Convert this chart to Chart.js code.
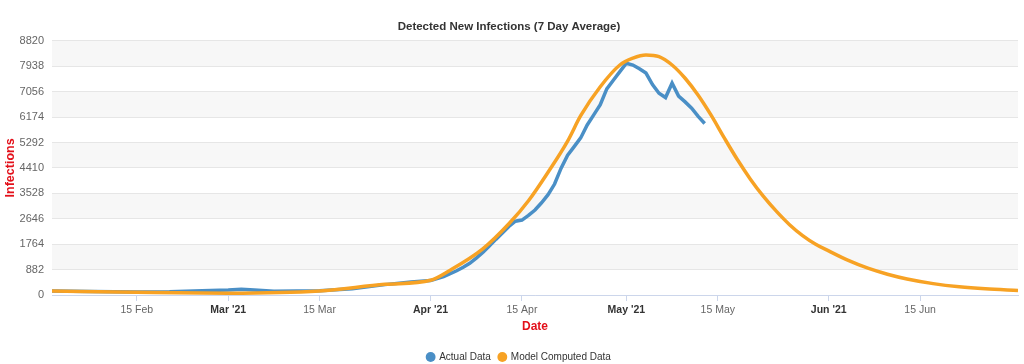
<!DOCTYPE html>
<html><head><meta charset="utf-8">
<script src="https://cdn.jsdelivr.net/npm/chart.js@4.4.0/dist/chart.umd.min.js"></script>
<style>html,body{margin:0;padding:0;background:#fff}#wrap{width:1024px;height:364px;position:relative}</style>
</head><body><div id="wrap"><canvas id="c"></canvas></div>
<script>
const actualDates = ['2021-02-02','2021-02-08','2021-02-15','2021-02-20','2021-02-25','2021-03-01','2021-03-03','2021-03-05','2021-03-08','2021-03-15','2021-03-20','2021-03-25','2021-03-29','2021-04-01',
'2021-04-03','2021-04-04','2021-04-05','2021-04-06','2021-04-07','2021-04-08','2021-04-09','2021-04-10','2021-04-11','2021-04-12','2021-04-13','2021-04-14','2021-04-15','2021-04-16','2021-04-17','2021-04-18','2021-04-19','2021-04-20','2021-04-21','2021-04-22','2021-04-23','2021-04-24','2021-04-25','2021-04-26','2021-04-27','2021-04-28','2021-04-29','2021-04-30',
'2021-05-01','2021-05-02','2021-05-03','2021-05-04','2021-05-05','2021-05-06','2021-05-07','2021-05-08','2021-05-09','2021-05-10','2021-05-11','2021-05-12','2021-05-13'];
const actualValues = [140,125,100,110,150,175,200,170,130,150,220,360,450,500,
640,740,840,960,1100,1280,1480,1700,1930,2150,2380,2560,2600,2760,2950,3200,3480,3850,4400,4850,5150,5450,5900,6250,6600,7150,7450,7750,
8040,7980,7850,7700,7300,7000,6850,7350,6900,6700,6480,6200,5950];

const modelDates = ['2021-02-02','2021-02-15','2021-03-01','2021-03-15','2021-03-25','2021-04-01','2021-04-04','2021-04-09','2021-04-13','2021-04-16','2021-04-19','2021-04-22','2021-04-24','2021-04-27','2021-04-30',
'2021-05-02','2021-05-04','2021-05-06','2021-05-08','2021-05-10','2021-05-12','2021-05-14','2021-05-16','2021-05-18','2021-05-20','2021-05-22','2021-05-24','2021-05-26','2021-05-28','2021-05-30',
'2021-06-01','2021-06-04','2021-06-07','2021-06-10','2021-06-13','2021-06-17','2021-06-21','2021-06-25','2021-06-30'];
const modelValues = [140,95,65,140,370,510,860,1600,2470,3270,4260,5340,6220,7225,7980,
8220,8330,8270,7980,7520,6930,6230,5450,4700,4020,3420,2900,2440,2060,1760,
1530,1200,930,720,555,395,285,215,160];

const tickDates = ['2021-02-15','2021-03-01','2021-03-15','2021-04-01','2021-04-15','2021-05-01','2021-05-15','2021-06-01','2021-06-15'];
const tickLabels = ['15 Feb',"Mar '21",'15 Mar',"Apr '21",'15 Apr',"May '21",'15 May',"Jun '21",'15 Jun'];
const yTickValues = [0,882,1764,2646,3528,4410,5292,6174,7056,7938,8820];

const ORIGIN = Date.UTC(2021,1,1);
const dayOf = d => { const p = d.split('-').map(Number); return (Date.UTC(p[0],p[1]-1,p[2]) - ORIGIN)/86400000; };
const FONT = '"Liberation Sans", Arial, sans-serif';
const isMonth = i => !!(tickLabels[i] && tickLabels[i].includes("'"));

const bands = {
  id:'bands',
  beforeDraw(chart){
    const {ctx, chartArea:a, scales:{y}} = chart;
    ctx.save();
    ctx.fillStyle = '#f7f7f7';
    for (let i = yTickValues.length-1; i > 0; i -= 2){
      const t = y.getPixelForValue(yTickValues[i]);
      const b = y.getPixelForValue(yTickValues[i-1]);
      ctx.fillRect(a.left, t, a.right-a.left, b-t);
    }
    ctx.restore();
  }
};
const legendShift = {
  id:'legendShift',
  afterLayout(chart){ const l = chart.legend; l.top += 8; l.bottom += 8; l.left += 10; l.right += 10; }
};

new Chart(document.getElementById('c'), {
  type:'line',
  data:{datasets:[
    {label:'Actual Data', data: actualDates.map((d,i)=>({x:dayOf(d), y:actualValues[i]})),
     borderColor:'#4a8fc6', backgroundColor:'#4a8fc6', borderWidth:3.5, pointRadius:0, tension:0, order:2},
    {label:'Model Computed Data', data: modelDates.map((d,i)=>({x:dayOf(d), y:modelValues[i]})),
     borderColor:'#f7a224', backgroundColor:'#f7a224', borderWidth:3.5, pointRadius:0, cubicInterpolationMode:'monotone', order:1}
  ]},
  options:{
    responsive:true, maintainAspectRatio:false, animation:false, devicePixelRatio:1,
    layout:{padding:{left:0,right:6,top:0,bottom:0}},
    plugins:{
      title:{display:true, text:'Detected New Infections (7 Day Average)', color:'#333',
        font:{family:FONT, size:11.5, weight:'bold'}, padding:{top:20,bottom:7}},
      legend:{position:'bottom', labels:{usePointStyle:true, pointStyle:'circle', boxWidth:7, boxHeight:7,
        padding:8, color:'#333', font:{family:FONT,size:10},
        generateLabels:chart=>Chart.defaults.plugins.legend.labels.generateLabels(chart).map(l=>({...l, lineWidth:0})),
        sort:(a,b)=>a.datasetIndex-b.datasetIndex}},
      tooltip:{enabled:false}
    },
    scales:{
      x:{type:'linear', min:1, max:149,
        afterBuildTicks:s=>{ s.ticks = tickDates.map(d=>({value:dayOf(d)})); },
        afterFit:s=>{ s.height = 41; },
        ticks:{autoSkip:false, maxRotation:0, padding:3,
          callback:(v,i)=>tickLabels[i],
          color:ctx=>isMonth(ctx.index)?'#333':'#666',
          font:ctx=>({family:FONT,size:10.5,weight:isMonth(ctx.index)?'bold':'normal'})},
        grid:{drawOnChartArea:false, drawTicks:true, tickLength:6, color:'#ccd6eb'},
        border:{display:true, color:'#ccd6eb'},
        title:{display:true, text:'Date', color:'#e3101a', font:{family:FONT,size:12,weight:'bold'}, padding:{top:0,bottom:2}}
      },
      y:{min:0, max:8820,
        afterBuildTicks:s=>{ s.ticks = yTickValues.map(v=>({value:v})); },
        afterFit:s=>{ s.width = 52; },
        ticks:{padding:8, color:'#666', font:{family:FONT,size:11}, callback:v=>String(v)},
        grid:{color:'#e6e6e6', drawTicks:false},
        border:{display:false},
        title:{display:true, text:'Infections', color:'#e3101a', font:{family:FONT,size:12.5,weight:'bold'}, padding:{top:3,bottom:0}}
      }
    }
  },
  plugins:[bands, legendShift]
});
</script>
</body></html>
